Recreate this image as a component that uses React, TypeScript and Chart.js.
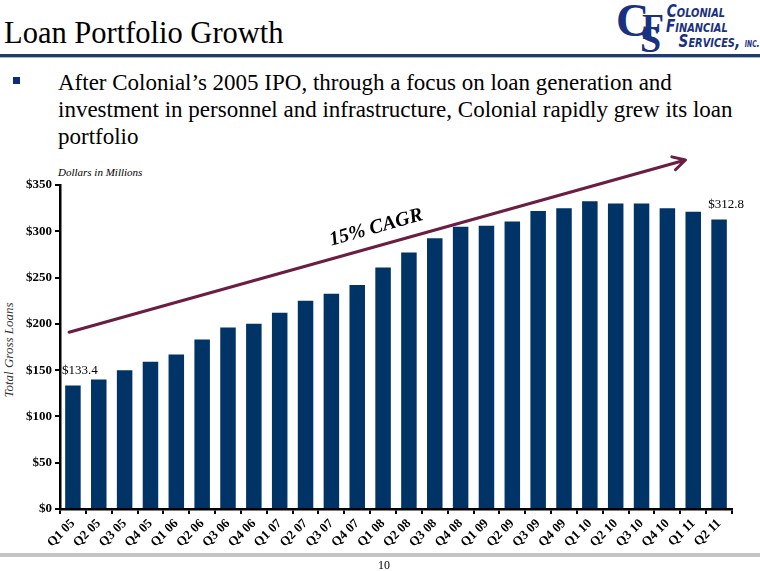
import React, { useEffect, useRef } from "react";
import { Chart, registerables } from "chart.js";

Chart.register(...registerables);

const SERIF = '"Liberation Serif", "Times New Roman", Times, serif';

const categories = [
  "Q1 05", "Q2 05", "Q3 05", "Q4 05",
  "Q1 06", "Q2 06", "Q3 06", "Q4 06",
  "Q1 07", "Q2 07", "Q3 07", "Q4 07",
  "Q1 08", "Q2 08", "Q3 08", "Q4 08",
  "Q1 09", "Q2 09", "Q3 09", "Q4 09",
  "Q1 10", "Q2 10", "Q3 10", "Q4 10",
  "Q1 11", "Q2 11",
];

const totalGrossLoans = [
  133.4, 140, 150, 159,
  167, 183, 196, 200,
  212, 225, 232.5, 242,
  261, 277, 292.5, 305,
  306, 310.5, 322, 325,
  332.5, 330, 330, 325,
  321, 312.8,
];

const labelledBars = [0, 25];

const yMin = 0;
const yMax = 350;
const yStep = 50;

// CAGR arrow, in data units (category index, $ millions)
const arrowStart = [-0.15, 191];
const arrowEnd = [23.7, 377];
const cagrLabel = "15% CAGR";

const bulletLines = [
  "After Colonial\u2019s 2005 IPO, through a focus on loan generation and",
  "investment in personnel and infrastructure, Colonial rapidly grew its loan",
  "portfolio",
];

const overlayPlugin = {
  id: "overlay",
  afterDatasetsDraw(chart: any) {
    const ctx = chart.ctx;
    const xs = chart.scales.x;
    const ys = chart.scales.y;
    const meta = chart.getDatasetMeta(0);
    ctx.save();
    // value labels
    ctx.font = `13px ${SERIF}`;
    ctx.fillStyle = "#000";
    ctx.textAlign = "center";
    ctx.textBaseline = "middle";
    labelledBars.forEach((i) => {
      const bar = meta.data[i];
      ctx.fillText("$" + totalGrossLoans[i].toFixed(1), bar.x + 7, bar.y - 15);
    });
    // arrow
    const x1 = xs.getPixelForValue(arrowStart[0]);
    const y1 = ys.getPixelForValue(arrowStart[1]);
    const x2 = xs.getPixelForValue(arrowEnd[0]);
    const y2 = ys.getPixelForValue(arrowEnd[1]);
    const a = Math.atan2(y2 - y1, x2 - x1);
    ctx.strokeStyle = "#6a1e42";
    ctx.lineWidth = 3;
    ctx.lineCap = "round";
    ctx.lineJoin = "round";
    ctx.beginPath();
    ctx.moveTo(x1, y1);
    ctx.lineTo(x2, y2);
    const hl = 14;
    ctx.moveTo(x2 - hl * Math.cos(a - 0.5), y2 - hl * Math.sin(a - 0.5));
    ctx.lineTo(x2, y2);
    ctx.lineTo(x2 - hl * Math.cos(a + 0.5), y2 - hl * Math.sin(a + 0.5));
    ctx.stroke();
    // CAGR label
    const t = 0.506;
    const px = x1 + t * (x2 - x1);
    const py = y1 + t * (y2 - y1);
    const nx = Math.sin(a);
    const ny = -Math.cos(a);
    ctx.translate(px + nx * 18, py + ny * 18);
    ctx.rotate(a);
    ctx.font = `italic bold 20px ${SERIF}`;
    ctx.fillStyle = "#000";
    ctx.textAlign = "center";
    ctx.textBaseline = "middle";
    ctx.fillText(cagrLabel, 0, 0);
    ctx.restore();
  },
};

function LoanChart() {
  const ref = useRef<HTMLCanvasElement | null>(null);
  useEffect(() => {
    if (!ref.current) return;
    const chart = new Chart(ref.current, {
      type: "bar",
      data: {
        labels: categories,
        datasets: [
          {
            data: totalGrossLoans,
            backgroundColor: "#003366",
            borderWidth: 0,
            barPercentage: 0.6,
            categoryPercentage: 1,
          },
        ],
      },
      options: {
        animation: false,
        responsive: false,
        devicePixelRatio: 1,
        layout: { padding: { top: 45, right: 28, left: 0, bottom: 0 } },
        plugins: {
          legend: { display: false },
          tooltip: { enabled: false },
        },
        scales: {
          x: {
            offset: true,
            afterFit: (s: any) => {
              s.height = 51;
            },
            grid: {
              offset: true,
              drawOnChartArea: false,
              drawTicks: true,
              tickLength: 5,
              color: "#000",
              lineWidth: 2,
            },
            border: { display: true, color: "#000", width: 2.5 },
            ticks: {
              autoSkip: false,
              minRotation: 45,
              maxRotation: 45,
              padding: 2,
              color: "#000",
              font: { family: SERIF, size: 13, weight: "bold" },
            },
          },
          y: {
            min: yMin,
            max: yMax,
            afterFit: (s: any) => {
              s.width = 60;
            },
            grid: {
              drawOnChartArea: false,
              drawTicks: true,
              tickLength: 5,
              color: "#000",
              lineWidth: 2,
            },
            border: { display: true, color: "#000", width: 2.5 },
            ticks: {
              stepSize: yStep,
              padding: 3,
              color: "#000",
              font: { family: SERIF, size: 13, weight: "bold" },
              callback: (v: any) => "$" + v,
            },
          },
        },
      },
      plugins: [overlayPlugin],
    });
    return () => chart.destroy();
  }, []);
  return (
    <canvas
      ref={ref}
      width={760}
      height={420}
      style={{ position: "absolute", left: 0, top: 140, width: 760, height: 420 }}
    />
  );
}

export default function App() {
  const navy = "#1a3182";
  return (
    <div
      style={{
        position: "fixed",
        left: 0,
        top: 0,
        width: 760,
        height: 571,
        background: "#fff",
        overflow: "hidden",
        fontFamily: SERIF,
        color: "#000",
      }}
    >
      {/* Title */}
      <div
        style={{
          position: "absolute",
          left: 4,
          top: 18,
          fontSize: 30.5,
          lineHeight: "30px",
          whiteSpace: "nowrap",
        }}
      >
        Loan Portfolio Growth
      </div>
      {/* Logo */}
      <div style={{ position: "absolute", left: 614, top: 0, width: 146, height: 54 }}>
        <span style={{ position: "absolute", left: 2, top: -2, fontSize: 46, lineHeight: "46px", fontWeight: "bold", color: navy }}>C</span>
        <span style={{ position: "absolute", left: 28, top: 9, fontSize: 36, lineHeight: "36px", fontWeight: "bold", color: navy }}>F</span>
        <span style={{ position: "absolute", left: 26, top: 20, fontSize: 38, lineHeight: "38px", fontWeight: "bold", color: navy }}>S</span>
        <div
          style={{
            position: "absolute",
            left: 52,
            top: 3,
            fontFamily: '"Liberation Sans Narrow", "DejaVu Sans Condensed", "Liberation Sans", sans-serif',
            fontStyle: "italic",
            fontWeight: "bold",
            fontVariant: "small-caps",
            fontSize: 18,
            lineHeight: "15px",
            color: navy,
            whiteSpace: "nowrap",
            transform: "scaleX(0.84)",
            transformOrigin: "0 0",
          }}
        >
          <div style={{ paddingLeft: 1 }}>Colonial</div>
          <div style={{ paddingLeft: 0 }}>Financial</div>
          <div style={{ paddingLeft: 15 }}>
            Services, <span style={{ fontSize: 11 }}>inc.</span>
          </div>
        </div>
      </div>
      {/* Title rule */}
      <div style={{ position: "absolute", left: 0, top: 54, width: 760, height: 3, background: "#203c6c" }} />
      <div style={{ position: "absolute", left: 0, top: 57, width: 760, height: 1, background: "#a8b4c8" }} />
      {/* Bullet */}
      <div style={{ position: "absolute", left: 13, top: 77, width: 7, height: 7, background: "#0d2a80" }} />
      <div
        style={{
          position: "absolute",
          left: 58,
          top: 69,
          fontSize: 23,
          lineHeight: "27px",
          whiteSpace: "nowrap",
        }}
      >
        {bulletLines.map((l, i) => (
          <div key={i}>{l}</div>
        ))}
      </div>
      {/* Axis notes */}
      <div
        style={{
          position: "absolute",
          left: 58,
          top: 167,
          fontSize: 11,
          lineHeight: "11px",
          fontStyle: "italic",
          whiteSpace: "nowrap",
        }}
      >
        Dollars in Millions
      </div>
      <div
        style={{
          position: "absolute",
          left: 8,
          top: 350,
          fontSize: 13,
          lineHeight: "13px",
          fontStyle: "italic",
          color: "#333",
          whiteSpace: "nowrap",
          transform: "translate(-50%, -50%) rotate(-90deg)",
        }}
      >
        Total Gross Loans
      </div>
      <LoanChart />
      {/* Footer */}
      <div style={{ position: "absolute", left: 0, top: 553, width: 760, height: 4, background: "#c4c4c4" }} />
      <div
        style={{
          position: "absolute",
          left: 0,
          top: 559,
          width: 768,
          textAlign: "center",
          fontSize: 12,
          lineHeight: "12px",
        }}
      >
        10
      </div>
    </div>
  );
}
